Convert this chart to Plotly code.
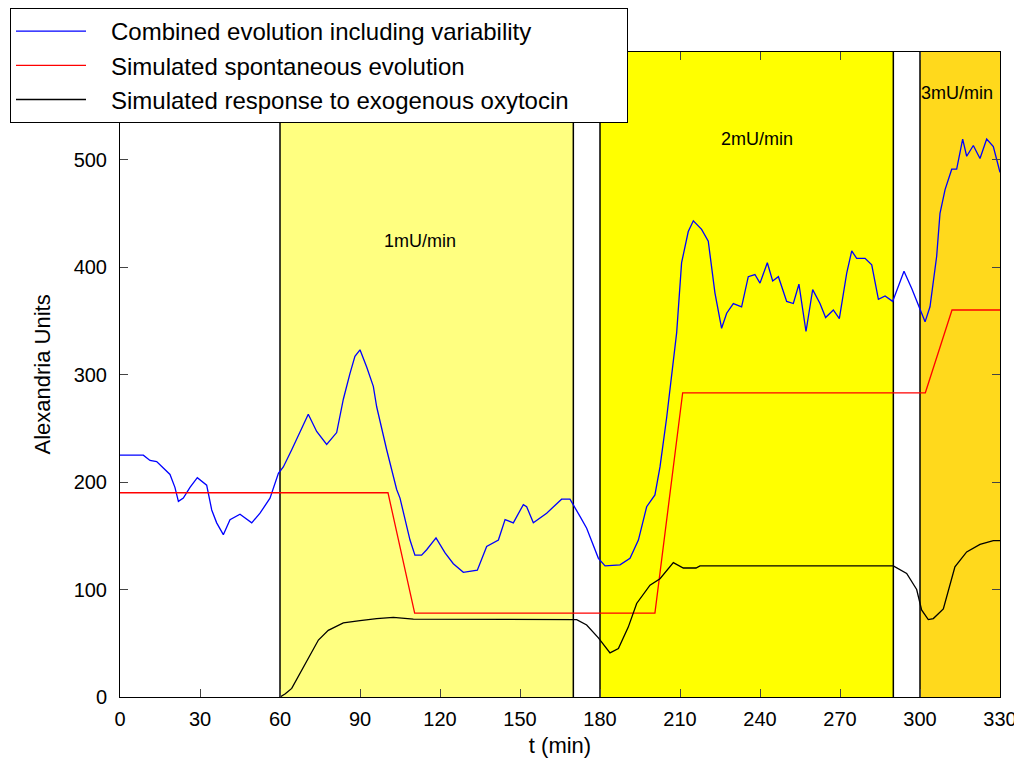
import plotly.graph_objects as go

# ---- data ----
t_blue = [0, 8.75, 11.25, 13.75, 16.25, 18.75, 20.6, 21.9, 23.75, 26.25,
          29, 32.5, 34.4, 36.25, 38.75, 41.25, 45, 49.4, 52.5, 56.25,
          59.4, 61.25, 64.4, 68.1, 70.6, 73.75, 77.5, 81.25, 83.75, 86.25,
          88.1, 90, 92.5, 95, 96.25, 100, 103.75, 105, 108.75, 110.6,
          113.1, 115, 118.5, 121.9, 125, 128.75, 134, 137.5, 141.9, 144.4,
          147.5, 151.25, 152.5, 155, 160, 165.6, 168.75, 172.5, 175, 179.4,
          181.9, 187.5, 191.25, 194.4, 197.5, 200.6, 202.5, 205, 208.75, 210.6,
          213.1, 215, 218.1, 220.6, 223.1, 225.6, 227.5, 230, 233.1, 235.6,
          238.1, 240, 242.75, 244.75, 246.9, 250, 252.5, 254.6, 257.25, 259.75,
          262.5, 264.6, 267.5, 269.75, 272.5, 274.4, 276.25, 279.4, 281.9, 284.4,
          286.9, 289.75, 294, 296.9, 299.4, 301.9, 303.75, 306.25, 307.5, 309.4,
          311.9, 313.75, 316, 317.5, 320, 322.5, 325, 327.5, 330]
v_blue = [225, 225, 220, 219, 213, 207, 195, 182, 185, 195,
          204, 197, 174, 162, 151, 165, 170, 162, 171, 185,
          208, 214, 230, 249, 263, 247, 235, 246, 277, 301,
          317, 323, 307, 289, 270, 230, 193, 185, 146, 132,
          132, 137, 148, 134, 124, 116, 118, 140, 146, 165,
          162, 179, 177, 162, 171, 184, 184, 168, 157, 129,
          122, 123, 129, 146, 177, 188, 214, 260, 339, 404,
          433, 443, 435, 424, 376, 343, 357, 366, 363, 391,
          393, 385, 404, 387, 391, 368, 366, 384, 340, 379,
          366, 353, 360, 352, 394, 415, 408, 408, 402, 370,
          373, 368, 396, 380, 365, 349, 363, 410, 450, 472,
          491, 491, 519, 503, 513, 501, 519, 512, 488]

t_red = [0, 100.5, 110.5, 200.6, 211, 302, 312, 330]
v_red = [190, 190, 78, 78, 283, 283, 360, 360]

t_black = [60, 62, 64.4, 68.1, 71.25, 74.4, 78.1, 83.75, 90, 96.25,
           102.5, 110, 171.25, 175, 179.4, 183.75, 186.9, 190.6, 193.75, 198.75,
           202.5, 207.5, 211.25, 216, 217.5, 290, 295, 298.75, 300.6, 303.1,
           305, 308.75, 313.1, 317.5, 322.5, 327.5, 330]
v_black = [0, 3, 8, 25, 39, 53, 62, 69, 71, 73,
           74, 72.5, 72, 67, 55, 41, 45, 65, 87, 104,
           110, 125, 120, 120, 122, 122, 115, 100, 81, 72,
           73, 82, 121, 135, 142, 145.5, 145.5]

region_start = [60, 180, 300]
region_end = [170, 290, 330]
region_labels = ["1mU/min", "2mU/min", "3mU/min"]
region_label_t = [112.5, 239, 314]
region_label_v = [424, 519, 562]
region_colors = ["#FFFF80", "#FFFF00", "#FFD91C"]

series_names = ["Combined evolution including variability",
                "Simulated spontaneous evolution",
                "Simulated response to exogenous oxytocin"]

x_ticks = list(range(0, 331, 30))
y_ticks = [0, 100, 200, 300, 400, 500]

# ---- figure ----
pad_right = "\u00a0" * 8
fig = go.Figure()
fig.add_trace(go.Scatter(x=t_blue, y=v_blue, mode="lines", name="   " + series_names[0],
                         line=dict(color="#0000FF", width=1.3)))
fig.add_trace(go.Scatter(x=t_red, y=v_red, mode="lines", name="   " + series_names[1],
                         line=dict(color="#FF0000", width=1.3)))
fig.add_trace(go.Scatter(x=t_black, y=v_black, mode="lines",
                         name="   " + series_names[2] + pad_right,
                         line=dict(color="#000000", width=1.3)))

for s, e, c in zip(region_start, region_end, region_colors):
    fig.add_shape(type="rect", xref="x", yref="y", x0=s, x1=e, y0=0, y1=600,
                  fillcolor=c, line=dict(width=0), layer="below")
for s, e in zip(region_start, region_end):
    for xv in (s, e):
        if xv < 330:
            fig.add_shape(type="line", xref="x", yref="y", x0=xv, x1=xv, y0=0, y1=600,
                          line=dict(color="black", width=1.5), layer="below")

font_fam = "Liberation Sans, Arial, sans-serif"

for lab, lt, lv in zip(region_labels, region_label_t, region_label_v):
    fig.add_annotation(x=lt, y=lv, xref="x", yref="y", text=lab, showarrow=False,
                       font=dict(size=18, color="black", family=font_fam))

# y-axis title
fig.add_annotation(x=-0.0886, y=0.5, xref="paper", yref="paper", text="Alexandria Units",
                   textangle=-90, showarrow=False, xanchor="center", yanchor="middle",
                   font=dict(size=22, color="black", family=font_fam))

fig.update_layout(
    width=1014, height=755,
    margin=dict(l=112, r=22, t=44, b=66, autoexpand=False),
    paper_bgcolor="white", plot_bgcolor="white",
    font=dict(family=font_fam, size=20, color="black"),
    showlegend=True,
    legend=dict(xref="container", yref="container",
                x=2 / 1014, y=1.0, xanchor="left", yanchor="top",
                bgcolor="white", bordercolor="black", borderwidth=1,
                font=dict(size=24, family=font_fam), itemwidth=70,
                tracegroupgap=0),
    xaxis=dict(range=[0, 330], tickvals=x_ticks, ticks="inside", ticklen=8,
               showline=True, linecolor="black", linewidth=1, mirror="ticks",
               showgrid=False, zeroline=False,
               ticklabelstandoff=4,
               title=dict(text="t (min)", font=dict(size=22), standoff=8),
               tickfont=dict(size=20)),
    yaxis=dict(range=[0, 600], tickvals=y_ticks, ticks="inside", ticklen=8,
               showline=True, linecolor="black", linewidth=1, mirror="ticks",
               showgrid=False, zeroline=False,
               ticklabelstandoff=8,
               tickfont=dict(size=20)),
)

fig.write_html("out.html")
